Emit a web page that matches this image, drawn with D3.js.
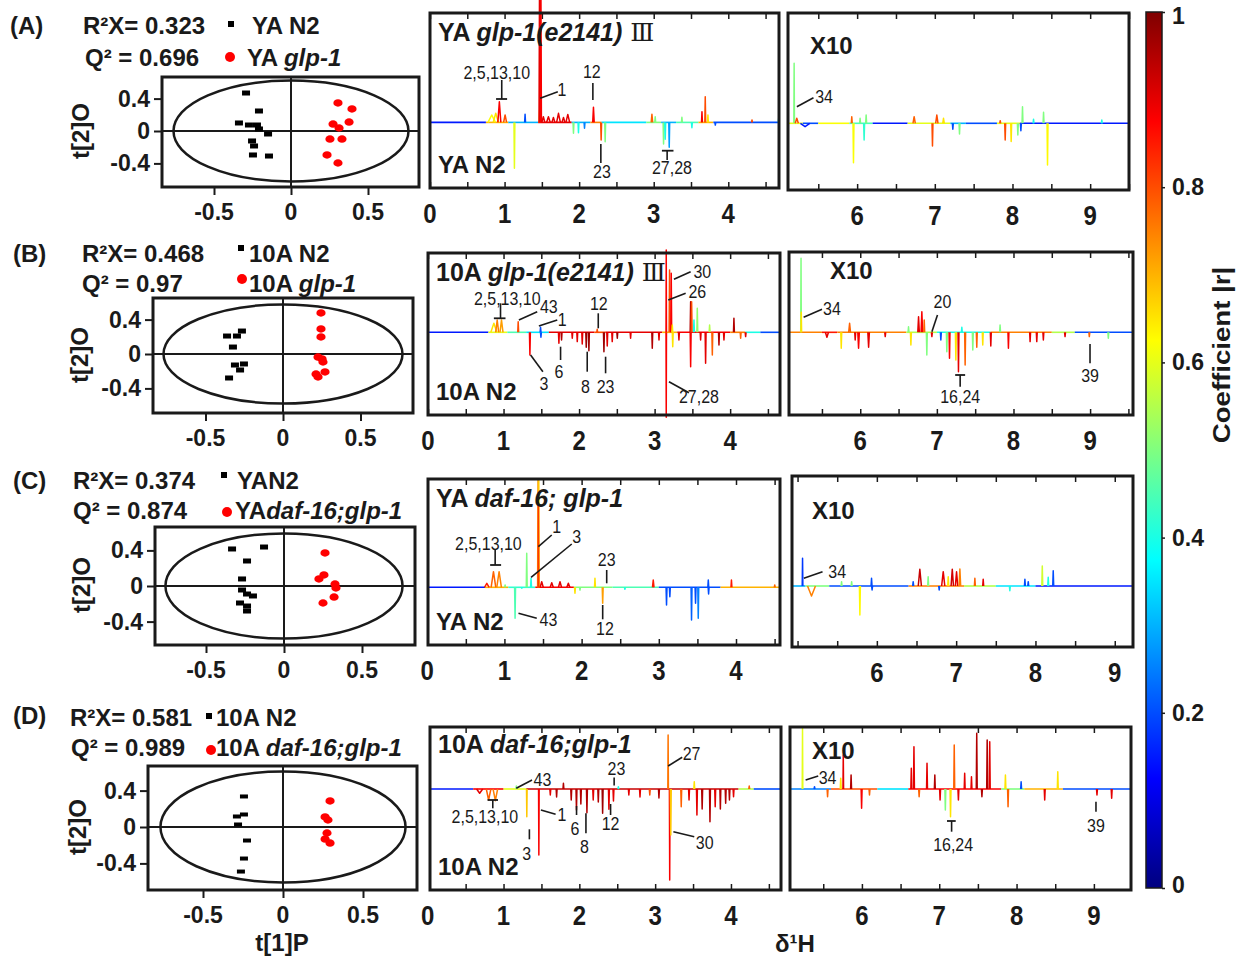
<!DOCTYPE html>
<html>
<head>
<meta charset="UTF-8">
<style>
  body { margin: 0; background: #fff; }
  text { font-family: "Liberation Sans", Arial, sans-serif; }
</style>
</head>
<body>
<div id="fig"></div>
<script src="https://cdnjs.cloudflare.com/ajax/libs/d3/7.8.5/d3.min.js"></script>
<script>
// ---------- score plot data (t[1]P, t[2]O) ----------
const r2x = [0.323, 0.468, 0.374, 0.581];
const q2 = [0.696, 0.97, 0.874, 0.989];
const ellipseRadii = [[0.763, 0.623], [0.771, 0.576], [0.76, 0.59], [0.766, 0.61]];
const groupN2 = ["YA N2", "10A N2", "YAN2", "10A N2"];
const groupMut = [[["YA "], ["glp-1", "i"]], [["10A "], ["glp-1", "i"]], [["YA"], ["daf-16;glp-1", "i"]], [["10A "], ["daf-16;glp-1", "i"]]];
const rowTags = ["(A)", "(B)", "(C)", "(D)"];

const n2A = [[-0.292, 0.469], [-0.208, 0.247], [-0.338, 0.099], [-0.273, 0.074], [-0.221, 0.074], [-0.208, 0.025], [-0.149, -0.037], [-0.253, -0.123], [-0.240, -0.185], [-0.247, -0.296], [-0.143, -0.309]];
const mutA = [[0.305, 0.346], [0.396, 0.272], [0.377, 0.111], [0.273, 0.086], [0.312, 0.037], [0.253, -0.099], [0.331, -0.099], [0.234, -0.296], [0.305, -0.395]];
const n2B = [[-0.361, 0.209], [-0.297, 0.209], [-0.265, 0.267], [-0.323, 0.081], [-0.310, -0.128], [-0.252, -0.116], [-0.277, -0.186], [-0.348, -0.279]];
const mutB = [[0.245, 0.477], [0.245, 0.291], [0.245, 0.198], [0.226, -0.035], [0.252, -0.058], [0.258, -0.093], [0.213, -0.233], [0.226, -0.267], [0.271, -0.209]];
const n2C = [[-0.333, 0.416], [-0.128, 0.438], [-0.237, 0.281], [-0.269, 0.079], [-0.269, -0.045], [-0.237, -0.090], [-0.199, -0.112], [-0.282, -0.191], [-0.237, -0.225], [-0.237, -0.281]];
const mutC = [[0.263, 0.371], [0.256, 0.124], [0.224, 0.079], [0.327, 0.022], [0.333, -0.022], [0.321, -0.124], [0.250, -0.191]];
const n2D = [[-0.244, 0.330], [-0.288, 0.110], [-0.244, 0.132], [-0.281, 0.022], [-0.225, -0.154], [-0.244, -0.352], [-0.263, -0.495]];
const mutD = [[0.294, 0.286], [0.263, 0.110], [0.281, 0.077], [0.275, -0.066], [0.263, -0.132], [0.294, -0.176]];

const scoreTicksX = [-0.5, 0, 0.5];
const scoreTicksY = [0.4, 0, -0.4];

// ---------- spectra: peaks [ppm, value, |r|, halfwidth], baseline [from, to, |r|] ----------
const peaksA1 = [[0.828, 0.074, 0.62, 0.05], [0.882, 0.091, 0.65, 0.035], [0.93, 0.207, 0.88, 0.02], [1.007, 0.074, 0.8, 0.02],
  [1.132, -0.459, 0.6], [1.275, 0.081, 0.2], [1.47, 0.124, 0.65], [1.468, 1.224, 0.9], [1.478, 1.224, 0.9], [1.488, 1.224, 0.88],
  [1.52, 0.057, 0.9, 0.02], [1.588, 0.057, 0.9, 0.025], [1.655, 0.05, 0.9, 0.02], [1.723, 0.091, 0.9, 0.025], [1.79, 0.05, 0.9, 0.02],
  [1.848, 0.08, 0.9, 0.025], [1.924, -0.109, 0.5], [1.991, -0.103, 0.4], [2.072, -0.059, 0.25], [2.192, 0.151, 0.88, 0.01],
  [2.295, -0.176, 0.8], [2.349, -0.193, 0.5], [2.976, 0.081, 0.78, 0.01], [3.02, 0.057, 0.5], [3.132, -0.216, 0.5],
  [3.154, -0.169, 0.4], [3.208, -0.249, 0.28], [3.378, 0.051, 0.5], [3.512, -0.053, 0.4], [3.647, 0.107, 0.88],
  [3.691, 0.257, 0.8], [3.727, 0.074, 0.65], [3.826, -0.026, 0.2], [4.318, 0.024, 0.8], [4.676, 0.04, 0.4]];
const baseA1 = [[0, 0.75, 0.15], [0.75, 1.05, 0.7], [1.05, 1.45, 0.3], [1.45, 1.9, 0.9], [1.9, 2.15, 0.3], [2.15, 2.3, 0.75],
  [2.3, 2.9, 0.35], [2.9, 3.1, 0.5], [3.1, 3.3, 0.3], [3.3, 3.6, 0.45], [3.6, 3.8, 0.7], [3.8, 4.68, 0.2]];
const notesA1 = [["2,5,13,10", 0.895, 0.494, 0.962, 0.424, 0.962, 0.234], ["12", 2.17, 0.504, 2.184, 0.394, 2.184, 0.224],
  ["1", 1.768, 0.324, 1.477, 0.241, 1.714, 0.307], ["23", 2.305, -0.496, 2.291, -0.216, 2.291, -0.406],
  ["27,28", 3.244, -0.456, 3.18, -0.283, 3.18, -0.376]];
const barsA1 = [[0.886, 1.034, 0.234], [3.11, 3.265, -0.283]];

const peaksA2 = [[5.189, 0.60, 0.5, 0.004], [5.223, 0.05, 0.8, 0.02], [5.33, -0.034, 0.15, 0.06], [5.931, 0.066, 0.78],
  [5.953, -0.394, 0.62], [6.038, 0.05, 0.5], [6.09, -0.167, 0.42], [6.116, 0.083, 0.5], [6.734, 0.066, 0.78, 0.015],
  [6.97, -0.227, 0.8], [7.026, 0.083, 0.8, 0.015], [7.112, 0.05, 0.65, 0.01], [7.232, -0.06, 0.2], [7.318, -0.107, 0.5],
  [7.842, 0.026, 0.8], [7.906, -0.167, 0.8], [7.983, -0.183, 0.65], [8.069, -0.117, 0.5], [8.108, -0.074, 0.2],
  [8.129, 0.166, 0.5], [8.271, 0.04, 0.4], [8.4, 0.11, 0.5], [8.451, -0.417, 0.63], [9.15, 0.033, 0.4]];
const baseA2 = [[5.11, 5.3, 0.6], [5.3, 5.5, 0.2], [5.5, 5.9, 0.62], [5.9, 6.2, 0.45], [6.2, 6.65, 0.15], [6.65, 7.2, 0.6],
  [7.2, 7.4, 0.3], [7.4, 7.8, 0.2], [7.8, 8.1, 0.6], [8.1, 9.5, 0.15]];
const notesA2 = [["34", 5.575, 0.266, 5.224, 0.166, 5.438, 0.256]];
const barsA2 = [];

const peaksB1 = [[0.872, 0.09, 0.65, 0.04], [0.916, 0.123, 0.75, 0.02], [0.973, 0.123, 0.72, 0.02], [1.194, 0.106, 0.8],
  [1.349, -0.227, 0.88], [1.49, 0.05, 0.2], [1.495, -0.05, 0.2], [1.733, -0.11, 0.9], [1.768, -0.077, 0.95], [1.91, -0.06, 0.9],
  [1.976, -0.093, 0.9], [2.042, -0.117, 0.9], [2.095, -0.15, 0.97], [2.13, -0.184, 0.97], [2.24, 0.03, 0.8],
  [2.329, -0.194, 0.97], [2.373, -0.137, 0.9], [2.439, -0.093, 0.9], [2.506, -0.06, 0.97], [2.682, -0.06, 0.9],
  [2.969, -0.16, 0.95], [3.058, -0.077, 0.9], [3.154, 0.823, 0.88, 0.003], [3.154, -0.85, 0.88, 0.003], [3.198, 0.623, 0.8],
  [3.22, 0.59, 0.88], [3.234, 0.073, 0.65], [3.24, -0.144, 0.65], [3.322, -0.077, 0.9], [3.477, 0.306, 0.95],
  [3.477, -0.344, 0.88], [3.49, 0.306, 0.8], [3.521, 0.123, 0.4], [3.565, 0.24, 0.52], [3.609, -0.077, 0.9],
  [3.675, -0.31, 0.9], [3.728, 0.073, 0.55], [3.764, -0.227, 0.78], [3.852, -0.127, 0.95], [3.918, -0.077, 0.9],
  [4.05, 0.14, 0.95], [4.139, -0.06, 0.78], [4.205, -0.043, 0.9]];
const baseB1 = [[0, 0.8, 0.15], [0.8, 1.05, 0.6], [1.05, 1.3, 0.45], [1.3, 1.6, 0.35], [1.6, 2.2, 0.9], [2.2, 2.35, 0.8],
  [2.35, 3.1, 0.9], [3.1, 3.3, 0.7], [3.3, 4.0, 0.88], [4.0, 4.2, 0.75], [4.2, 4.4, 0.4], [4.4, 4.66, 0.2]];
const notesB1 = [["2,5,13,10", 1.049, 0.34, 0.96, 0.29, 0.96, 0.14], ["43", 1.6, 0.256, 1.203, 0.123, 1.446, 0.206],
  ["1", 1.777, 0.123, 1.468, 0.063, 1.711, 0.123], ["12", 2.262, 0.29, 2.254, 0.19, 2.254, 0.04],
  ["3", 1.534, -0.51, 1.358, -0.227, 1.521, -0.394], ["6", 1.733, -0.394, 1.755, -0.144, 1.755, -0.277],
  ["8", 2.086, -0.544, 2.108, -0.194, 2.108, -0.394], ["23", 2.351, -0.544, 2.351, -0.244, 2.351, -0.41],
  ["30", 3.632, 0.606, 3.256, 0.53, 3.477, 0.606], ["26", 3.566, 0.406, 3.181, 0.323, 3.411, 0.39],
  ["27,28", 3.587, -0.644, 3.19, -0.494, 3.454, -0.604]];
const barsB1 = [[0.872, 1.026, 0.14]];

const peaksB2 = [[5.227, 0.74, 0.5, 0.004], [5.23, 0.2, 0.65, 0.004], [5.565, -0.05, 0.9, 0.02], [5.752, -0.16, 0.65],
  [5.861, 0.09, 0.78, 0.012], [5.934, -0.077, 0.9], [5.978, -0.16, 0.88, 0.01], [6.109, -0.15, 0.9, 0.01], [6.326, -0.043, 0.9],
  [6.63, 0.056, 0.5], [6.661, -0.127, 0.65], [6.761, 0.156, 0.9, 0.01], [6.804, 0.206, 0.88, 0.01], [6.835, 0.123, 0.78],
  [6.869, -0.227, 0.5], [6.935, -0.043, 0.9], [7.052, -0.077, 0.2], [7.13, -0.194, 0.5], [7.165, -0.26, 0.88],
  [7.248, -0.277, 0.65], [7.282, -0.394, 0.9], [7.326, 0.05, 0.4], [7.369, -0.327, 0.78], [7.469, -0.177, 0.5],
  [7.521, -0.15, 0.78], [7.599, -0.127, 0.65], [7.704, -0.137, 0.9], [7.825, 0.073, 0.5], [7.934, -0.16, 0.88],
  [8.217, -0.093, 0.9], [8.304, -0.093, 0.9], [8.39, -0.077, 0.9], [8.673, -0.043, 0.9], [8.99, -0.043, 0.78], [9.238, -0.06, 0.5]];
const baseB2 = [[5.07, 5.5, 0.75], [5.5, 5.7, 0.85], [5.7, 6.6, 0.75], [6.6, 7.0, 0.55], [7.0, 7.7, 0.4], [7.7, 8.5, 0.75],
  [8.5, 8.8, 0.55], [8.8, 9.56, 0.2]];
const notesB2 = [["34", 5.631, 0.24, 5.261, 0.15, 5.501, 0.23], ["20", 7.073, 0.306, 6.935, 0.006, 7.008, 0.173],
  ["16,24", 7.304, -0.644, 7.304, -0.427, 7.304, -0.544], ["39", 8.999, -0.437, 8.999, -0.117, 8.999, -0.31]];
const barsB2 = [[7.239, 7.369, -0.427]];

const peaksC1 = [[0.772, 0.04, 0.85, 0.03], [0.858, 0.156, 0.78, 0.03], [0.931, 0.156, 0.75, 0.03], [1.009, 0.023, 0.5],
  [1.138, -0.31, 0.45], [1.225, -0.01, 0.4], [1.289, 0.34, 0.5], [1.345, 0.09, 0.4], [1.435, 1.073, 0.72, 0.005],
  [1.445, 1.073, 0.68, 0.005], [1.44, 0.85, 0.82, 0.004], [1.483, 0.056, 0.9, 0.02], [1.613, 0.046, 0.9, 0.02],
  [1.72, 0.056, 0.9, 0.02], [1.828, 0.04, 0.9, 0.02], [1.914, -0.06, 0.65], [1.979, -0.027, 0.5], [2.173, 0.09, 0.65],
  [2.273, -0.16, 0.72], [2.561, -0.02, 0.4], [2.928, 0.073, 0.85, 0.01], [3.1, -0.177, 0.2], [3.143, -0.094, 0.2],
  [3.424, -0.327, 0.22], [3.476, -0.16, 0.2], [3.511, -0.31, 0.25], [3.641, 0.073, 0.2], [3.645, -0.067, 0.2],
  [3.941, 0.073, 0.85], [4.502, 0.023, 0.78]];
const baseC1 = [[0.01, 0.75, 0.15], [0.75, 1.05, 0.7], [1.05, 1.4, 0.42], [1.4, 1.9, 0.88], [1.9, 2.4, 0.5], [2.4, 3.0, 0.45],
  [3.0, 3.8, 0.2], [3.8, 4.57, 0.7]];
const notesC1 = [["2,5,13,10", 0.793, 0.44, 0.88, 0.373, 0.88, 0.223], ["1", 1.678, 0.606, 1.44, 0.406, 1.613, 0.523],
  ["3", 1.937, 0.506, 1.345, 0.1, 1.872, 0.433], ["23", 2.325, 0.273, 2.325, 0.173, 2.325, 0.04],
  ["43", 1.57, -0.32, 1.182, -0.26, 1.419, -0.31], ["12", 2.303, -0.41, 2.273, -0.177, 2.273, -0.32]];
const barsC1 = [[0.815, 0.957, 0.223]];

const peaksC2 = [[5.063, 0.277, 0.18, 0.004], [5.176, -0.1, 0.75, 0.05], [5.555, 0.043, 0.5], [5.682, 0.043, 0.5],
  [5.786, -0.29, 0.63], [5.933, 0.077, 0.2], [5.94, -0.04, 0.2], [6.458, 0.043, 0.2], [6.542, 0.167, 0.93, 0.02],
  [6.647, 0.093, 0.5], [6.786, -0.04, 0.2], [6.837, 0.143, 0.9, 0.02], [6.9, 0.093, 0.65], [6.951, 0.167, 0.92, 0.015],
  [7.005, 0.143, 0.9, 0.015], [7.047, 0.17, 0.75, 0.01], [7.236, 0.077, 0.78], [7.341, 0.067, 0.9], [7.677, -0.047, 0.4],
  [7.867, 0.067, 0.2], [7.909, 0.043, 0.2], [8.086, 0.2, 0.58], [8.161, 0.087, 0.4], [8.224, 0.153, 0.2]];
const baseC2 = [[4.93, 5.1, 0.3], [5.1, 5.4, 0.5], [5.4, 6.4, 0.2], [6.4, 7.1, 0.75], [7.1, 7.5, 0.55], [7.5, 8.0, 0.35], [8.0, 9.23, 0.15]];
const notesC2 = [["34", 5.5, 0.143, 5.079, 0.077, 5.315, 0.143]];
const barsC2 = [];

const peaksD1 = [[0.685, -0.043, 0.9, 0.04], [0.803, -0.11, 0.78, 0.03], [0.892, -0.117, 0.75, 0.03], [1.169, 0.03, 0.5],
  [1.307, -0.277, 0.68, 0.004], [1.466, -0.66, 0.88, 0.004], [1.617, -0.06, 0.9], [1.7, -0.08, 0.95], [1.79, 0.057, 0.95],
  [1.893, -0.11, 0.95], [1.962, -0.21, 0.95], [2.02, -0.15, 0.95], [2.1, -0.237, 0.95], [2.183, -0.11, 0.9], [2.25, -0.13, 0.95],
  [2.307, -0.243, 0.97], [2.39, -0.203, 0.9], [2.45, -0.12, 0.9], [2.515, 0.023, 0.4], [2.653, -0.06, 0.9], [2.8, -0.08, 0.9],
  [2.929, -0.06, 0.8], [3.05, -0.09, 0.95], [3.171, 0.54, 0.76, 0.004], [3.192, -0.91, 0.88, 0.004], [3.206, -0.46, 0.68],
  [3.344, -0.177, 0.78], [3.447, -0.11, 0.9], [3.516, 0.073, 0.65], [3.551, -0.26, 0.9], [3.62, -0.2, 0.95],
  [3.723, -0.327, 0.95], [3.792, -0.177, 0.9], [3.86, -0.2, 0.95], [3.93, -0.143, 0.95], [3.98, -0.11, 0.95],
  [4.034, -0.077, 0.9], [4.241, 0.03, 0.78]];
const baseD1 = [[0.03, 0.6, 0.15], [0.6, 1.0, 0.88], [1.0, 1.3, 0.6], [1.3, 4.1, 0.93], [4.1, 4.3, 0.55], [4.3, 4.66, 0.2]];
const notesD1 = [["2,5,13,10", 0.754, -0.277, 0.858, -0.11, 0.858, -0.193], ["43", 1.514, 0.097, 1.168, 0.007, 1.376, 0.09],
  ["1", 1.769, -0.26, 1.493, -0.21, 1.687, -0.253], ["3", 1.307, -0.65, 1.341, -0.403, 1.341, -0.503],
  ["6", 1.942, -0.393, 1.963, -0.17, 1.963, -0.26], ["8", 2.066, -0.577, 2.087, -0.243, 2.087, -0.443],
  ["12", 2.412, -0.35, 2.412, -0.15, 2.412, -0.26], ["23", 2.49, 0.2, 2.459, 0.115, 2.459, 0.035],
  ["27", 3.481, 0.357, 3.171, 0.23, 3.357, 0.317], ["30", 3.654, -0.537, 3.24, -0.427, 3.516, -0.477]];
const barsD1 = [[0.789, 0.927, -0.11]];

const peaksD2 = [[5.232, 0.607, 0.6, 0.004], [5.387, 0.023, 0.2], [5.556, -0.077, 0.78], [5.726, 0.107, 0.65],
  [5.759, 0.34, 0.9, 0.004], [5.86, 0.14, 0.95], [5.996, -0.193, 0.88], [6.098, -0.06, 0.78], [6.639, 0.207, 0.9],
  [6.673, 0.423, 0.9], [6.74, -0.077, 0.78], [6.842, 0.257, 0.9], [6.943, 0.14, 0.95], [7.011, -0.11, 0.9],
  [7.079, -0.21, 0.5], [7.146, -0.277, 0.65], [7.194, 0.44, 0.78], [7.248, -0.11, 0.9], [7.329, 0.157, 0.9],
  [7.417, 0.123, 0.9], [7.485, 0.557, 0.95], [7.552, -0.077, 0.95], [7.62, 0.49, 0.95], [7.653, 0.473, 0.9],
  [7.856, 0.14, 0.65], [7.89, -0.177, 0.78], [8.059, 0.073, 0.2], [8.364, -0.11, 0.9], [8.533, 0.173, 0.65],
  [9.04, -0.06, 0.9], [9.23, -0.093, 0.9]];
const baseD2 = [[5.07, 5.6, 0.25], [5.6, 6.2, 0.8], [6.2, 6.6, 0.35], [6.6, 7.8, 0.88], [7.8, 8.1, 0.5], [8.1, 8.6, 0.7], [8.6, 9.48, 0.2]];
const notesD2 = [["34", 5.556, 0.117, 5.272, 0.09, 5.435, 0.13], ["16,24", 7.18, -0.56, 7.16, -0.32, 7.16, -0.427],
  ["39", 9.027, -0.37, 9.027, -0.127, 9.027, -0.227]];
const barsD2 = [[7.1, 7.213, -0.32]];

const specTitles = [[["YA "], ["glp-1(e2141)", "i"], [" Ⅲ", "r"]], [["10A "], ["glp-1(e2141)", "i"], [" Ⅲ", "r"]],
  [["YA "], ["daf-16; glp-1", "i"]], [["10A "], ["daf-16;glp-1", "i"]]];
const specBottom = ["YA N2", "10A N2", "YA N2", "10A N2"];
const ppmLabelsLeft = [0, 1, 2, 3, 4];
const ppmLabelsRight = [6, 7, 8, 9];
const colorTicks = [0, 0.2, 0.4, 0.6, 0.8, 1];

// ---------- layout ----------
const scoreLayout = [
  { box: [162, 77, 419, 187], cx: 291, kx: 154, cy: 131, ky: 81, tag: [10, 25], r2: [83, 25], q2: [85, 57], sq: [231, 24], g1: [252, 25], dot: [230, 57], g2: [247, 57], ylab: [80, 131] },
  { box: [153, 298, 413, 413], cx: 283, kx: 155, cy: 354, ky: 86, tag: [13, 253], r2: [82, 253], q2: [82, 283], sq: [241, 248], g1: [249, 253], dot: [242, 279], g2: [249, 283], ylab: [79, 355] },
  { box: [155, 527, 415, 645], cx: 284, kx: 156, cy: 586, ky: 89, tag: [13, 480], r2: [73, 480], q2: [73, 510], sq: [224, 475], g1: [237, 480], dot: [227, 512], g2: [235, 510], ylab: [81, 585] },
  { box: [148, 766, 417, 890], cx: 283, kx: 160, cy: 827, ky: 91, tag: [13, 715], r2: [70, 717], q2: [71, 747], sq: [209, 716], g1: [216, 717], dot: [211, 750], g2: [216, 747], ylab: [77, 827] }
];
const specLayout = [
  [{ box: [430, 13, 779, 188], xd: [0, 4.68], yd: [-0.656, 1.094], ty: 19 }, { box: [788, 13, 1129, 190], xd: [5.11, 9.5], yd: [-0.667, 1.103], x10: [22, 32] }],
  [{ box: [428, 253, 780, 415], xd: [0, 4.66], yd: [-0.827, 0.793], ty: 19 }, { box: [789, 252, 1133, 415], xd: [5.07, 9.56], yd: [-0.827, 0.803], x10: [41, 18] }],
  [{ box: [428, 479, 780, 645], xd: [0.01, 4.57], yd: [-0.577, 1.083], ty: 19 }, { box: [792, 476, 1133, 647], xd: [4.93, 9.23], yd: [-0.61, 1.10], x10: [20, 34] }],
  [{ box: [430, 727, 781, 890], xd: [0.03, 4.66], yd: [-1.01, 0.62], ty: 17 }, { box: [790, 727, 1131, 890], xd: [5.07, 9.48], yd: [-1.01, 0.62], x10: [22, 23] }]
];
const scoreData = [[n2A, mutA], [n2B, mutB], [n2C, mutC], [n2D, mutD]];
const specData = [
  [[peaksA1, baseA1, notesA1, barsA1], [peaksA2, baseA2, notesA2, barsA2]],
  [[peaksB1, baseB1, notesB1, barsB1], [peaksB2, baseB2, notesB2, barsB2]],
  [[peaksC1, baseC1, notesC1, barsC1], [peaksC2, baseC2, notesC2, barsC2]],
  [[peaksD1, baseD1, notesD1, barsD1], [peaksD2, baseD2, notesD2, barsD2]]
];

const INK = "#1a1a1a";
const svg = d3.select("#fig").append("svg").attr("width", 1243).attr("height", 957);

// MATLAB jet colour map
const jetPos = [0, 0.125, 0.375, 0.625, 0.875, 1];
const jetCol = ["#00007f", "#0000ff", "#00ffff", "#ffff00", "#ff0000", "#7f0000"];
const jet = d3.scaleLinear().domain(jetPos).range(jetCol).clamp(true);

// text helper: parts = string or [[text, style]]
function txt(g, x, y, parts, o = {}) {
  const t = g.append("text")
    .attr("transform", `translate(${x},${y}) scale(1,${o.sy || 1})` + (o.rot ? ` rotate(${o.rot})` : ""))
    .attr("text-anchor", o.anchor || "start")
    .attr("dominant-baseline", "central")
    .attr("font-size", o.size || 22)
    .attr("font-weight", o.weight || "bold")
    .attr("fill", INK);
  (typeof parts === "string" ? [[parts]] : parts).forEach(p => {
    const s = t.append("tspan").text(p[0]);
    if (p[1] === "i") s.attr("font-style", "italic");
    if (p[1] === "r") s.attr("font-family", "'DejaVu Serif', serif").attr("font-weight", "normal");
  });
  return t;
}

// ---------- score plots ----------
scoreLayout.forEach((L, i) => {
  const g = svg.append("g");
  const [bx0, by0, bx1, by1] = L.box;
  const x = d3.scaleLinear().domain([(bx0 - L.cx) / L.kx, (bx1 - L.cx) / L.kx]).range([bx0, bx1]);
  const y = d3.scaleLinear().domain([(L.cy - by1) / L.ky, (L.cy - by0) / L.ky]).range([by1, by0]);

  g.append("g").attr("transform", `translate(0,${by1})`)
    .call(d3.axisBottom(x).tickValues(scoreTicksX).tickSize(8).tickFormat(""))
    .call(a => a.select(".domain").remove())
    .selectAll("line").attr("stroke", INK).attr("stroke-width", 2);
  g.append("g").attr("transform", `translate(${bx0},0)`)
    .call(d3.axisLeft(y).tickValues(scoreTicksY).tickSize(8).tickFormat(""))
    .call(a => a.select(".domain").remove())
    .selectAll("line").attr("stroke", INK).attr("stroke-width", 2);
  scoreTicksX.forEach(v => txt(g, x(v), by1 + 25, String(v), { anchor: "middle", size: 23 }));
  scoreTicksY.forEach(v => txt(g, bx0 - 12, y(v), String(v), { anchor: "end", size: 23 }));

  g.append("line").attr("x1", x(0)).attr("x2", x(0)).attr("y1", by0).attr("y2", by1).attr("stroke", INK).attr("stroke-width", 2);
  g.append("line").attr("x1", bx0).attr("x2", bx1).attr("y1", y(0)).attr("y2", y(0)).attr("stroke", INK).attr("stroke-width", 2);
  g.append("ellipse").attr("cx", x(0)).attr("cy", y(0))
    .attr("rx", x(ellipseRadii[i][0]) - x(0)).attr("ry", y(0) - y(ellipseRadii[i][1]))
    .attr("fill", "none").attr("stroke", INK).attr("stroke-width", 2.5);
  g.append("rect").attr("x", bx0).attr("y", by0).attr("width", bx1 - bx0).attr("height", by1 - by0)
    .attr("fill", "none").attr("stroke", INK).attr("stroke-width", 3);

  const [n2, mut] = scoreData[i];
  g.selectAll(".sq").data(n2).join("rect")
    .attr("x", d => x(d[0]) - 4).attr("y", d => y(d[1]) - 2.5)
    .attr("width", 8).attr("height", i === 3 ? 4 : 5).attr("fill", "#000");
  g.selectAll(".dt").data(mut).join("ellipse")
    .attr("cx", d => x(d[0])).attr("cy", d => y(d[1])).attr("rx", 4.6).attr("ry", 3.7).attr("fill", "#f00");

  txt(g, L.tag[0], L.tag[1], rowTags[i], { size: 24 });
  txt(g, L.r2[0], L.r2[1], "R²X= " + r2x[i], { size: 24 });
  txt(g, L.q2[0], L.q2[1], "Q² = " + q2[i], { size: 24 });
  g.append("rect").attr("x", L.sq[0] - 3).attr("y", L.sq[1] - 3).attr("width", 6).attr("height", 6).attr("fill", "#000");
  txt(g, L.g1[0], L.g1[1], groupN2[i], { size: 24 });
  g.append("circle").attr("cx", L.dot[0]).attr("cy", L.dot[1]).attr("r", 5).attr("fill", "#f00");
  txt(g, L.g2[0], L.g2[1], groupMut[i], { size: 24 });
  txt(g, L.ylab[0], L.ylab[1], "t[2]O", { anchor: "middle", size: 24, rot: -90 });
});
txt(svg, 282, 942, "t[1]P", { anchor: "middle", size: 24 });

// ---------- spectra ----------
specLayout.forEach((row, i) => {
  row.forEach((P, j) => {
    const [peaks, base, notes, bars] = specData[i][j];
    const [bx0, by0, bx1, by1] = P.box;
    const x = d3.scaleLinear().domain(P.xd).range([bx0, bx1]);
    const y = d3.scaleLinear().domain(P.yd).range([by1, by0]);
    const g = svg.append("g");
    const ticks = d3.range(Math.ceil(P.xd[0] * 2) / 2, P.xd[1] + 1e-9, 0.5);

    g.append("g").attr("transform", `translate(0,${by1})`)
      .call(d3.axisBottom(x).tickValues(ticks).tickSize(-6).tickFormat(""))
      .call(a => a.select(".domain").remove())
      .selectAll("line").attr("stroke", INK).attr("stroke-width", 1.5);
    g.append("g").attr("transform", `translate(0,${by0})`)
      .call(d3.axisTop(x).tickValues(ticks).tickSize(-6).tickFormat(""))
      .call(a => a.select(".domain").remove())
      .selectAll("line").attr("stroke", INK).attr("stroke-width", 1.5);
    (j === 0 ? ppmLabelsLeft : ppmLabelsRight).forEach(v =>
      txt(g, x(v), by1 + 25, String(v), { anchor: "middle", size: 24, sy: 1.15 }));

    g.selectAll(".base").data(base).join("line")
      .attr("x1", d => x(d[0])).attr("x2", d => x(d[1]))
      .attr("y1", y(0)).attr("y2", y(0))
      .attr("stroke", d => jet(d[2])).attr("stroke-width", 1.6);
    g.selectAll(".pk").data(peaks).join("path")
      .attr("d", d => {
        const w = d[3] || 0.006;
        return `M${x(d[0] - w)},${y(0)}L${x(d[0])},${y(d[1])}L${x(d[0] + w)},${y(0)}`;
      })
      .attr("fill", "none").attr("stroke", d => jet(d[2]))
      .attr("stroke-width", 1.5).attr("stroke-linejoin", "round");

    g.append("rect").attr("x", bx0).attr("y", by0).attr("width", bx1 - bx0).attr("height", by1 - by0)
      .attr("fill", "none").attr("stroke", INK).attr("stroke-width", 3);

    notes.forEach(n => {
      g.append("line").attr("x1", x(n[3])).attr("y1", y(n[4])).attr("x2", x(n[5])).attr("y2", y(n[6]))
        .attr("stroke", INK).attr("stroke-width", 1.6);
      txt(g, x(n[1]), y(n[2]), n[0], { anchor: "middle", size: 16, weight: "normal", sy: 1.1 });
    });
    bars.forEach(b => g.append("line").attr("x1", x(b[0])).attr("x2", x(b[1])).attr("y1", y(b[2])).attr("y2", y(b[2]))
      .attr("stroke", INK).attr("stroke-width", 1.8));

    if (j === 0) {
      txt(g, bx0 + 8, by0 + P.ty, specTitles[i], { size: 25 });
      txt(g, bx0 + 8, by1 - 24, specBottom[i], { size: 24 });
    } else {
      txt(g, bx0 + P.x10[0], by0 + P.x10[1], "X10", { size: 24 });
    }
  });
});
txt(svg, 795, 943, "δ¹H", { anchor: "middle", size: 24 });

// ---------- colour bar ----------
const cb = d3.scaleLinear().domain([0, 1]).range([888, 12]);
const grad = svg.append("defs").append("linearGradient").attr("id", "jetg")
  .attr("x1", 0).attr("y1", 1).attr("x2", 0).attr("y2", 0);
jetPos.forEach((p, k) => grad.append("stop").attr("offset", p).attr("stop-color", jetCol[k]));
svg.append("rect").attr("x", 1146).attr("y", cb(1)).attr("width", 16).attr("height", cb(0) - cb(1))
  .attr("fill", "url(#jetg)").attr("stroke", INK).attr("stroke-width", 1.5);
svg.append("g").attr("transform", "translate(1162,0)")
  .call(d3.axisRight(cb).tickValues(colorTicks).tickSize(3).tickFormat(""))
  .call(a => a.select(".domain").remove())
  .selectAll("line").attr("stroke", INK).attr("stroke-width", 1.5);
colorTicks.forEach(v => txt(svg, 1172, cb(v) + (v === 1 ? 4 : v === 0 ? -3 : 0), v === 0 || v === 1 ? String(v) : v.toFixed(1), { size: 23 }));
txt(svg, 1222, 355, "Coefficient |r|", { anchor: "middle", size: 23, rot: -90, sy: 1.2 });
</script>
</body>
</html>
